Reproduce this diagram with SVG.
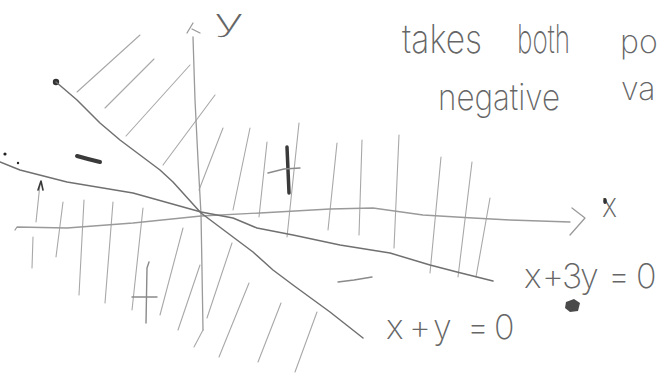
<svg xmlns="http://www.w3.org/2000/svg" width="661" height="374" viewBox="0 0 661 374">
<style>
.axis{fill:none;stroke:#9a9a9a;stroke-width:1.3;stroke-linecap:round;stroke-linejoin:round}
.line{fill:none;stroke:#707070;stroke-width:1.5;stroke-linecap:round;stroke-linejoin:round}
.hatch{fill:none;stroke:#a8a8a8;stroke-width:1.1;stroke-linecap:round}
.mark{fill:none;stroke:#8a8a8a;stroke-width:1.4;stroke-linecap:round;stroke-linejoin:round}
.dark{fill:none;stroke:#3a3a3a;stroke-linecap:round;stroke-linejoin:round}
.hw{font-family:Inter,"Open Sans","DejaVu Sans",sans-serif;font-weight:200;fill:#666666}
</style>
<rect width="661" height="374" fill="#ffffff"/>
<g id="hatching">
<path class="hatch" d="M77,92 L140,35 M105,108 L154,59 M126,136 L190,65 M163,165 L215,95"/>
<path class="hatch" d="M223,128 L199,190 M250,128 L233,210 M267,142 L259,217 M299,123 L287,237 M337,143 L328,230 M362,140 L359,235 M399,135 L394,248 M441,157 L430,273 M472,162 L458,277 M490,198 L476,277"/>
<path class="hatch" d="M40,184 L36,222 M33,237 L32,268 M63,202 L56,257 M84,200 L79,295 M113,202 L105,303 M143,208 L132,310 M183,228 L160,315 M200,265 L178,330 M232,243 L207,318 M203,330 L194,347 M249,283 L219,357 M281,303 L258,362 M317,312 L295,372"/>
</g>
<g id="y-axis">
<path class="axis" d="M193,37 L195,100 L198,160 L201,214 L202,270 L203,330"/>
<path class="axis" d="M193,23 L187,33 M192,29 L200,33"/>
<text class="hw" x="214" y="31" font-size="30" textLength="30" lengthAdjust="spacingAndGlyphs">y</text>
</g>
<g id="x-axis">
<path class="axis" d="M15,230 L17,227 L67,228 L133,223 L201,216 L260,213 L330,209 L373,208 L423,215 L473,218 L510,220 L570,222"/>
<path class="axis" d="M572,208 L585,218 L570,235"/>
<text class="hw" x="602" y="217" font-size="34" textLength="15" lengthAdjust="spacingAndGlyphs">x</text>
<ellipse cx="605" cy="201" rx="1.8" ry="3" fill="#333"/>
</g>
<g id="line-x-plus-3y">
<path class="line" d="M0,162 L20,170 L67,182 L133,193 L201,212 L233,218 L257,228 L293,235 L340,245 L390,253 L430,265 L457,272 L493,281"/>
<circle cx="5" cy="154" r="1.6" fill="#222"/>
<circle cx="18" cy="163" r="1.2" fill="#222"/>
<path class="dark" stroke-width="1.6" d="M38,190 L41,181 L43,190"/>
<text class="hw" font-size="34" y="288" x="524 542 562 580 608 636">x+3y=0</text>
<path d="M566,302 L574,299 L580,303 L578,311 L570,312 L565,308 Z" fill="#4a4a4a"/>
</g>
<g id="line-x-plus-y">
<circle cx="56" cy="82" r="3.2" fill="#333"/>
<path class="line" d="M56,82 L77,100 L100,123 L120,140 L140,155 L160,170 L173,182 L201,213 L213,222 L253,252 L273,270 L293,285 L330,312 L363,338"/>
<text class="hw" font-size="34" y="339" x="386 409 433 467 494">x+y=0</text>
</g>
<g id="signs">
<path class="dark" stroke-width="4" d="M77,156 L88,159 L100,162"/>
<path class="dark" stroke-width="3.5" d="M287,147 L288,170 L289,193"/>
<path class="mark" d="M268,173 L284,169 L300,168"/>
<path class="mark" d="M149,262 L147,268 L146,323 M132,297 L157,297"/>
<path class="mark" d="M338,282 L354,280 L372,277"/>
</g>
<g id="note">
<text class="hw" font-size="40" y="53"><tspan x="402" textLength="80" lengthAdjust="spacingAndGlyphs">takes</tspan><tspan x="517" textLength="53" lengthAdjust="spacingAndGlyphs">both</tspan></text>
<text class="hw" font-size="32" x="620" y="53">po</text>
<text class="hw" font-size="36" x="438" y="110" textLength="122" lengthAdjust="spacingAndGlyphs">negative</text>
<text class="hw" font-size="32" x="621" y="100">va</text>
</g>
</svg>
